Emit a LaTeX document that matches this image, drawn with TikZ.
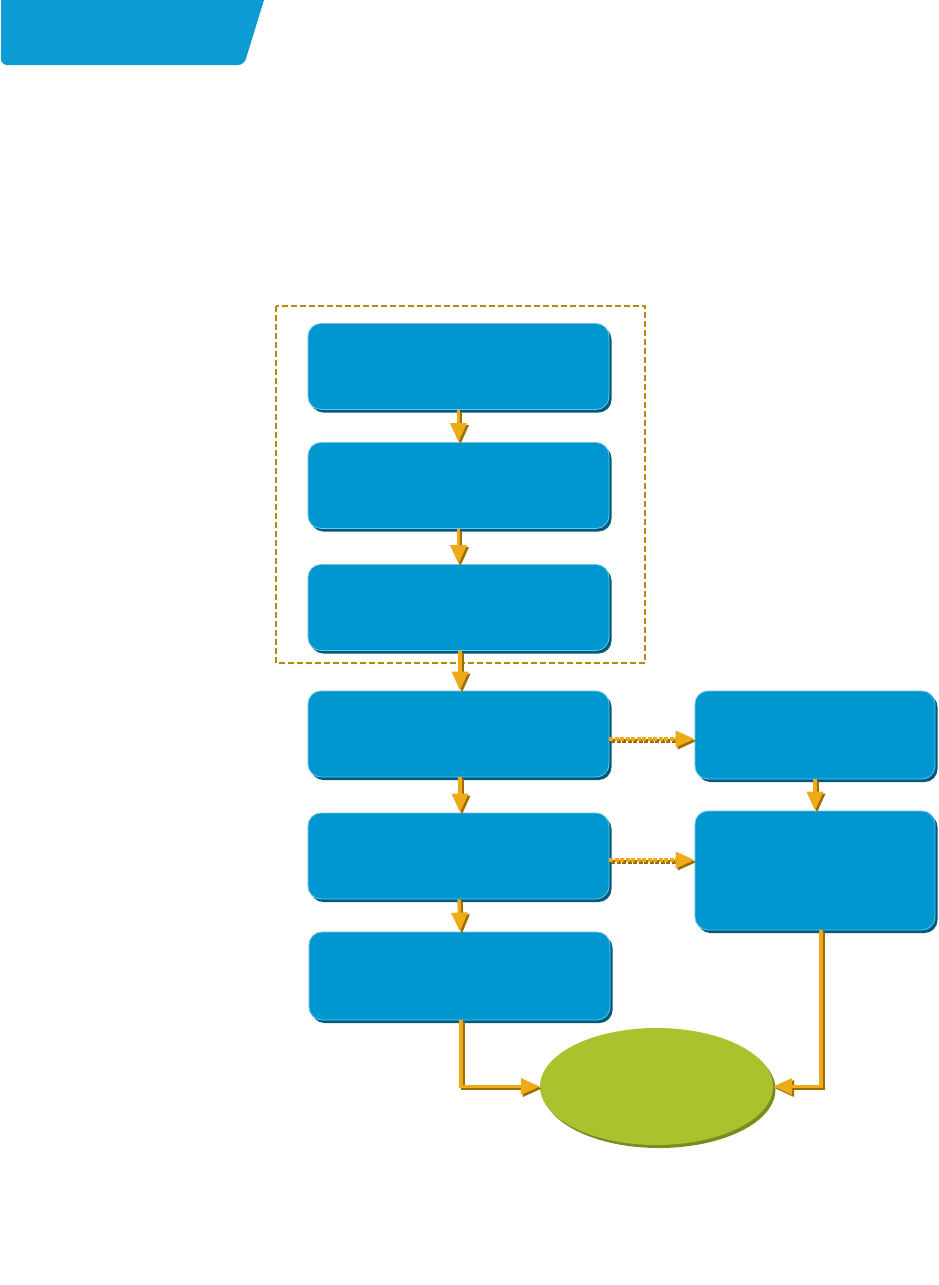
\documentclass[tikz,border=0pt]{standalone}
\usetikzlibrary{arrows.meta,shapes.geometric,shadows}
\definecolor{tabblue}{HTML}{0C9BD2}
\definecolor{boxblue}{HTML}{0096D0}
\definecolor{boxdark}{HTML}{005A80}
\definecolor{boxlight}{HTML}{6CC4E6}
\definecolor{gold}{HTML}{EFAA1A}
\definecolor{golddark}{HTML}{9A6E00}
\definecolor{frame}{HTML}{B8880E}
\definecolor{leaf}{HTML}{ABC22E}
\definecolor{leafdark}{HTML}{7A8C1E}
\tikzset{
  bluebox/.style={rectangle, rounded corners=13pt, fill=boxblue, draw=boxlight, line width=0.8pt,
    minimum width=301pt, minimum height=86pt, inner sep=0pt,
    general shadow={fill=boxdark, shadow xshift=2.5pt, shadow yshift=-3pt}},
  sidebox/.style={bluebox, minimum width=240pt},
  goal/.style={ellipse, fill=leaf, draw=none, minimum width=233pt, minimum height=117pt, inner sep=0pt,
    general shadow={fill=leafdark, shadow xshift=2.5pt, shadow yshift=-3pt}},
  garrow/.style={draw=gold, line width=3.5pt, -{Triangle[length=19pt,width=16pt]}},
  gshadow/.style={garrow, draw=golddark, transform canvas={xshift=2pt,yshift=-2pt}},
  dashy/.style={dash pattern=on 4pt off 1.5pt},
  grpframe/.style={draw=frame, line width=1.2pt, dash pattern=on 6pt off 3pt}
}
\begin{document}
\begin{tikzpicture}[x=1pt,y=-1pt]
\useasboundingbox (0,0) rectangle (939,1285);
% tab
\fill[tabblue] (1,0) -- (264,0) [rounded corners=6pt] -- (244,65) -- (1,65) [sharp corners] -- cycle;
% group frame
\draw[grpframe] (276,306) rectangle (645,663);
% boxes
\node[bluebox] (b1) at (458.5,366.5) {};
\node[bluebox] (b2) at (458.5,485.5) {};
\node[bluebox] (b3) at (458.5,607.5) {};
\node[bluebox] (b4) at (458.5,734) {};
\node[bluebox] (b5) at (458.5,856) {};
\node[bluebox, minimum height=88pt] (b6) at (459.5,976) {};
\node[sidebox, minimum height=88pt] (rA) at (815,735) {};
\node[sidebox, minimum height=119pt] (rB) at (815,870.5) {};
\node[goal] (el) at (656.5,1086.5) {};
% connectors (shadow first, then gold)
\draw[gshadow] (b1.south) -- (b2.north);
\draw[garrow] (b1.south) -- (b2.north);
\draw[gshadow] (b2.south) -- (b3.north);
\draw[garrow] (b2.south) -- (b3.north);
\draw[gshadow] ([xshift=1.5pt]b3.south) -- ([xshift=1.5pt]b4.north);
\draw[garrow] ([xshift=1.5pt]b3.south) -- ([xshift=1.5pt]b4.north);
\draw[gshadow] ([xshift=1.5pt]b4.south) -- ([xshift=1.5pt]b5.north);
\draw[garrow] ([xshift=1.5pt]b4.south) -- ([xshift=1.5pt]b5.north);
\draw[gshadow] ([xshift=0.5pt]b5.south) -- ([xshift=0.5pt]b6.north);
\draw[garrow] ([xshift=0.5pt]b5.south) -- ([xshift=0.5pt]b6.north);
\draw[gshadow] (rA.south) -- (rB.north);
\draw[garrow] (rA.south) -- (rB.north);
\draw[gshadow, dashy] ([yshift=-5pt]b4.east) -- ([yshift=-5pt]b4.east -| rA.west);
\draw[garrow, dashy] ([yshift=-5pt]b4.east) -- ([yshift=-5pt]b4.east -| rA.west);
\draw[gshadow, dashy] ([yshift=-4pt]b5.east) -- ([yshift=-4pt]b5.east -| rB.west);
\draw[garrow, dashy] ([yshift=-4pt]b5.east) -- ([yshift=-4pt]b5.east -| rB.west);
\draw[gshadow] ([xshift=1.5pt]b6.south) |- (el.west);
\draw[garrow] ([xshift=1.5pt]b6.south) |- (el.west);
\draw[gshadow] ([xshift=6pt]rB.south) |- (el.east);
\draw[garrow] ([xshift=6pt]rB.south) |- (el.east);
\end{tikzpicture}
\end{document}
